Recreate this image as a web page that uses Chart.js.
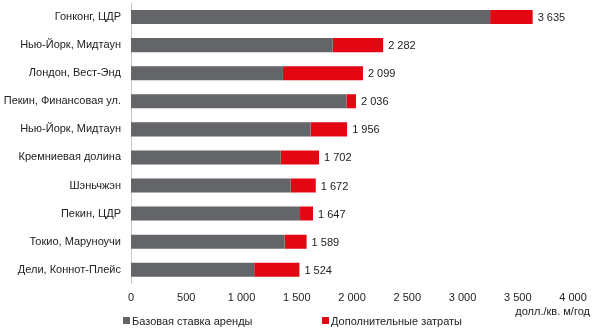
<!DOCTYPE html>
<html lang="ru">
<head>
    <meta charset="UTF-8">
    <title>Стоимость аренды офисов</title>
    <script src="https://cdn.jsdelivr.net/npm/chart.js"></script>
    <style>
        html, body { margin: 0; padding: 0; background: #fff; }
        .wrap {
            position: relative;
            width: 601px;
            height: 329px;
            font-family: "Liberation Sans", Arial, sans-serif;
            font-size: 11px;
            color: #222;
        }
        .unit {
            position: absolute;
            right: 11px;
            top: 305px;
        }
        .legend {
            position: absolute;
            top: 315px;
            left: 0;
            white-space: nowrap;
        }
        .legend span.item { position: absolute; }
        .legend i {
            display: inline-block;
            width: 7px;
            height: 7px;
            margin-right: 2px;
            vertical-align: 1px;
        }
    </style>
</head>
<body>
<div class="wrap">
    <canvas id="rentChart" width="601" height="329"></canvas>
    <div class="unit">долл./кв. м/год</div>
    <div class="legend">
        <span class="item" style="left:123px"><i style="background:#646569"></i>Базовая ставка аренды</span>
        <span class="item" style="left:322px"><i style="background:#e30613"></i>Дополнительные затраты</span>
    </div>
</div>

<script>
    const locations = [
        'Гонконг, ЦДР',
        'Нью-Йорк, Мидтаун',
        'Лондон, Вест-Энд',
        'Пекин, Финансовая ул.',
        'Нью-Йорк, Мидтаун',
        'Кремниевая долина',
        'Шэньчжэн',
        'Пекин, ЦДР',
        'Токио, Маруноучи',
        'Дели, Коннот-Плейс'
    ];
    // full cost per location (printed at bar end)
    const totals = [3635, 2282, 2099, 2036, 1956, 1702, 1672, 1647, 1589, 1524];
    // base rent part
    const baseRent = [3250, 1825, 1375, 1950, 1625, 1355, 1445, 1530, 1390, 1115];
    const extraCosts = totals.map((t, i) => t - baseRent[i]);

    const grey = '#646569';
    const red = '#e30613';

    const fmt = v => String(v).replace(/\B(?=(\d{3})+(?!\d))/g, ' ');

    // writes the total to the right of each stacked bar
    const totalLabels = {
        id: 'totalLabels',
        afterDatasetsDraw(chart) {
            const ctx = chart.ctx;
            const meta = chart.getDatasetMeta(1);
            ctx.save();
            ctx.font = '11px "Liberation Sans", Arial, sans-serif';
            ctx.fillStyle = '#222';
            ctx.textAlign = 'left';
            ctx.textBaseline = 'middle';
            meta.data.forEach((bar, i) => {
                ctx.fillText(fmt(totals[i]), bar.x + 5, bar.y + 1);
            });
            ctx.restore();
        }
    };

    new Chart(document.getElementById('rentChart'), {
        type: 'bar',
        data: {
            labels: locations,
            datasets: [
                {
                    label: 'Базовая ставка аренды',
                    data: baseRent,
                    backgroundColor: grey
                },
                {
                    label: 'Дополнительные затраты',
                    data: extraCosts,
                    backgroundColor: red
                }
            ]
        },
        options: {
            indexAxis: 'y',
            responsive: false,
            animation: false,
            layout: {
                padding: { left: 0, right: 28, top: 3, bottom: 16 }
            },
            datasets: {
                bar: { categoryPercentage: 1, barPercentage: 0.5 }
            },
            plugins: {
                legend: { display: false },
                tooltip: { enabled: false }
            },
            scales: {
                x: {
                    stacked: true,
                    min: 0,
                    max: 4000,
                    grid: { display: false, drawTicks: false },
                    border: { display: false },
                    ticks: {
                        stepSize: 500,
                        padding: 8,
                        maxRotation: 0,
                        color: '#222',
                        font: { family: '"Liberation Sans", Arial, sans-serif', size: 11 },
                        callback: v => fmt(v)
                    }
                },
                y: {
                    stacked: true,
                    grid: { display: false, drawTicks: false },
                    border: { display: true, color: '#c8c8c8' },
                    afterFit(scale) {
                        scale.width = 131;
                        // labels sit inside their bands, no extra room needed above/below
                        scale.paddingTop = 0;
                        scale.paddingBottom = 0;
                    },
                    ticks: {
                        padding: 10,
                        color: '#222',
                        font: { family: '"Liberation Sans", Arial, sans-serif', size: 11 }
                    }
                }
            }
        },
        plugins: [totalLabels]
    });
</script>
</body>
</html>
